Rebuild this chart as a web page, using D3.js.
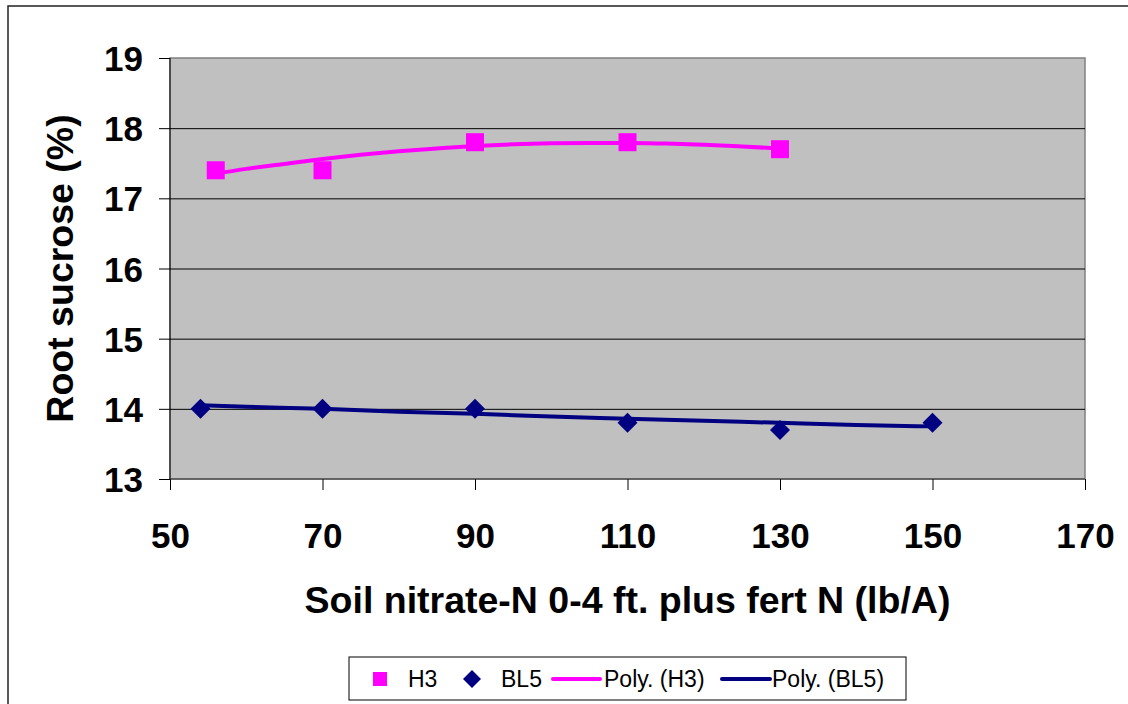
<!DOCTYPE html>
<html>
<head>
<meta charset="utf-8">
<script src="https://cdn.jsdelivr.net/npm/d3@7"></script>
<style>
  body { margin: 0; background: #fff; }
  svg { display: block; font-family: "Liberation Sans", Arial, sans-serif; }
  .tick text { font-weight: bold; font-size: 35px; fill: #000; }
  .title { font-weight: bold; font-size: 37.5px; fill: #000; }
  .legend text { font-size: 23px; fill: #000; }
</style>
</head>
<body>
<svg width="1128" height="704"></svg>
<script>
// tick labels
var xTicks = [50, 70, 90, 110, 130, 150, 170];
var yTicks = [13, 14, 15, 16, 17, 18, 19];

// measured points
var h3X = [56, 70, 90, 110, 130];
var h3Y = [17.4, 17.4, 17.8, 17.8, 17.7];
var bl5X = [54, 70, 90, 110, 130, 150];
var bl5Y = [14.0, 14.0, 14.0, 13.8, 13.7, 13.8];

// polynomial trendlines
var h3TrendX = [56, 60, 65, 70, 75, 80, 85, 90, 95, 100, 105, 110, 115, 120, 125, 130];
var h3TrendY = [17.35, 17.42, 17.49, 17.56, 17.62, 17.67, 17.71, 17.745, 17.77, 17.785, 17.79, 17.79, 17.78, 17.765, 17.74, 17.71];
var bl5TrendX = [54, 60, 70, 80, 90, 100, 110, 120, 130, 140, 150];
var bl5TrendY = [14.05, 14.03, 14.0, 13.96, 13.93, 13.89, 13.86, 13.83, 13.80, 13.77, 13.75];

var legendLabels = ["H3", "BL5", "Poly. (H3)", "Poly. (BL5)"];

var pink = "#ff00ff",
    navy = "#000080";

var svg = d3.select("svg"),
    plot = { left: 170, right: 1085, top: 58, bottom: 479 };

var x = d3.scaleLinear().domain([50, 170]).range([plot.left, plot.right]),
    y = d3.scaleLinear().domain([13, 19]).range([plot.bottom, plot.top]);

function zip(xs, ys) {
    return xs.map(function(v, i) { return { x: v, y: ys[i] }; });
}

// outer chart frame
svg.append("rect")
    .attr("x", 8).attr("y", 6)
    .attr("width", 1300).attr("height", 900)
    .attr("fill", "none")
    .attr("stroke", "#222")
    .attr("stroke-width", 1.5);

// plot area
svg.append("rect")
    .attr("x", plot.left).attr("y", plot.top)
    .attr("width", plot.right - plot.left).attr("height", plot.bottom - plot.top)
    .attr("fill", "#c0c0c0")
    .attr("stroke", "#808080")
    .attr("stroke-width", 1.5);

// gridlines
svg.append("g")
    .attr("transform", "translate(" + plot.left + ",0)")
    .call(d3.axisLeft(y).tickValues(yTicks.slice(1, -1)).tickSize(-(plot.right - plot.left)).tickFormat(""))
    .call(function(g) { g.select(".domain").remove(); })
    .selectAll("line").attr("stroke", "#000");

// y axis
svg.append("g")
    .attr("transform", "translate(" + plot.left + ",0)")
    .call(d3.axisLeft(y).tickValues(yTicks).tickSize(11).tickPadding(16).tickFormat(d3.format("d")))
    .call(function(g) {
        g.select(".domain").remove();
        g.selectAll("line").attr("stroke", "#000");
        g.selectAll("text").attr("dy", "0.36em");
    });

// x axis
svg.append("g")
    .attr("transform", "translate(0," + plot.bottom + ")")
    .call(d3.axisBottom(x).tickValues(xTicks).tickSize(11).tickPadding(33).tickFormat(d3.format("d")))
    .call(function(g) {
        g.select(".domain").remove();
        g.selectAll("line").attr("stroke", "#000");
        g.selectAll("text").attr("dy", "0.71em");
    });

// axis lines
svg.append("line")
    .attr("x1", plot.left).attr("x2", plot.left)
    .attr("y1", plot.top).attr("y2", plot.bottom)
    .attr("stroke", "#000");
svg.append("line")
    .attr("x1", plot.left).attr("x2", plot.right)
    .attr("y1", plot.bottom).attr("y2", plot.bottom)
    .attr("stroke", "#333");

// trendlines
var line = d3.line()
    .curve(d3.curveMonotoneX)
    .x(function(d) { return x(d.x); })
    .y(function(d) { return y(d.y); });

svg.append("path")
    .datum(zip(h3TrendX, h3TrendY))
    .attr("d", line)
    .attr("fill", "none")
    .attr("stroke", pink)
    .attr("stroke-width", 4);

svg.append("path")
    .datum(zip(bl5TrendX, bl5TrendY))
    .attr("d", line)
    .attr("fill", "none")
    .attr("stroke", navy)
    .attr("stroke-width", 4);

// markers
svg.selectAll(".h3")
    .data(zip(h3X, h3Y))
    .enter().append("rect")
    .attr("class", "h3")
    .attr("x", function(d) { return x(d.x) - 9; })
    .attr("y", function(d) { return y(d.y) - 9; })
    .attr("width", 18).attr("height", 18)
    .attr("fill", pink);

svg.selectAll(".bl5")
    .data(zip(bl5X, bl5Y))
    .enter().append("path")
    .attr("class", "bl5")
    .attr("d", function(d) {
        var cx = x(d.x), cy = y(d.y);
        return "M" + cx + "," + (cy - 10) + "L" + (cx + 10) + "," + cy +
            "L" + cx + "," + (cy + 10) + "L" + (cx - 10) + "," + cy + "Z";
    })
    .attr("fill", navy);

// axis titles
svg.append("text")
    .attr("class", "title")
    .attr("x", (plot.left + plot.right) / 2)
    .attr("y", 613)
    .attr("text-anchor", "middle")
    .text("Soil nitrate-N 0-4 ft. plus fert N (lb/A)");

svg.append("text")
    .attr("class", "title")
    .attr("transform", "translate(73," + ((plot.top + plot.bottom) / 2) + ") rotate(-90)")
    .attr("text-anchor", "middle")
    .text("Root sucrose (%)");

// legend
var legend = svg.append("g").attr("class", "legend");
legend.append("rect")
    .attr("x", 349).attr("y", 657)
    .attr("width", 557).attr("height", 43)
    .attr("fill", "#fff")
    .attr("stroke", "#000");

var ly = 679;
legend.append("rect")
    .attr("x", 373).attr("y", ly - 7)
    .attr("width", 14).attr("height", 14)
    .attr("fill", pink);
legend.append("path")
    .attr("d", "M472," + (ly - 9) + "L481," + ly + "L472," + (ly + 9) + "L463," + ly + "Z")
    .attr("fill", navy);
legend.append("line")
    .attr("x1", 553).attr("x2", 600)
    .attr("y1", ly).attr("y2", ly)
    .attr("stroke", pink).attr("stroke-width", 4).attr("stroke-linecap", "round");
legend.append("line")
    .attr("x1", 722).attr("x2", 770)
    .attr("y1", ly).attr("y2", ly)
    .attr("stroke", navy).attr("stroke-width", 4).attr("stroke-linecap", "round");

var labelX = [408, 501, 604, 772];
legend.selectAll(".lab")
    .data(legendLabels)
    .enter().append("text")
    .attr("class", "lab")
    .attr("x", function(d, i) { return labelX[i]; })
    .attr("y", ly)
    .attr("dy", "0.36em")
    .text(function(d) { return d; });
</script>
</body>
</html>
